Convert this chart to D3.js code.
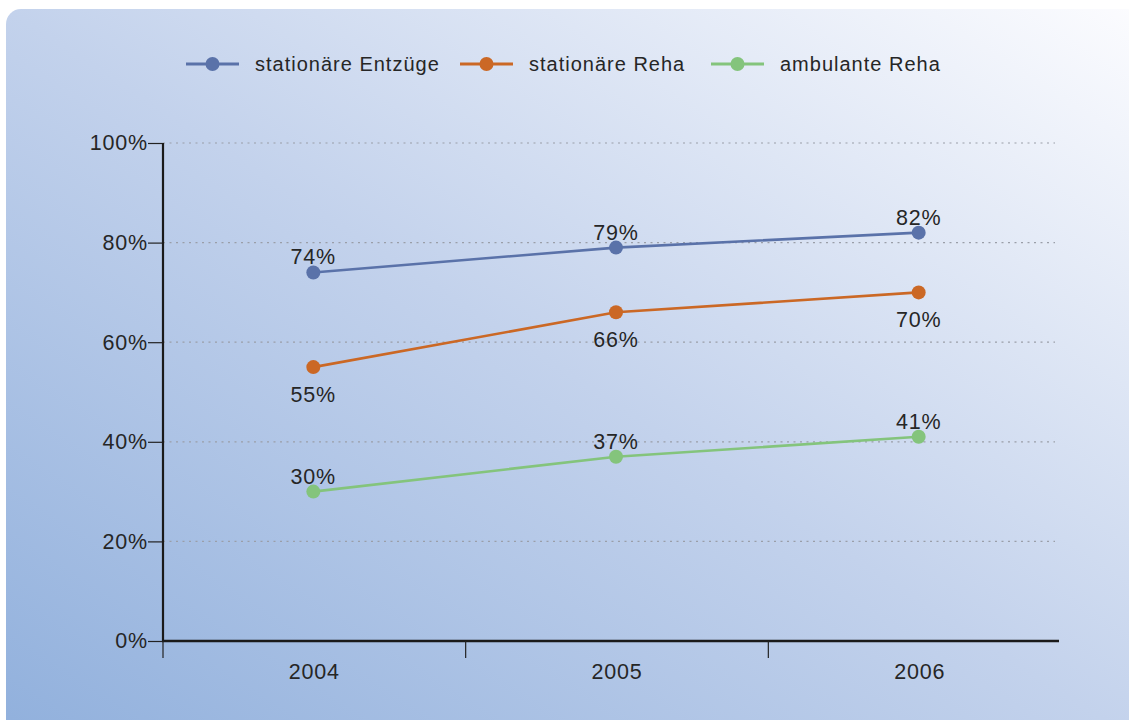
<!DOCTYPE html>
<html>
<head>
<meta charset="utf-8">
<script src="https://cdn.jsdelivr.net/npm/d3@7"></script>
<style>
html,body{margin:0;padding:0;background:#fff;}
svg{display:block;}
text{font-family:"Liberation Sans",Arial,sans-serif;fill:#262626;letter-spacing:0.8px;}
</style>
</head>
<body>
<svg id="chart" width="1129" height="720"></svg>
<script>
const years = ["2004", "2005", "2006"];
const seriesNames = ["stationäre Entzüge", "stationäre Reha", "ambulante Reha"];
const entzuege = [74, 79, 82];
const statReha = [55, 66, 70];
const ambReha = [30, 37, 41];
const yTicks = [0, 20, 40, 60, 80, 100];
const colors = ["#5a72a9", "#cb6825", "#84c47c"];
const labelSide = ["above", "below", "above"];

(function () {
const series = [entzuege, statReha, ambReha].map((vals, i) => ({
  name: seriesNames[i], values: vals, color: colors[i], side: labelSide[i]
}));

const svg = d3.select("#chart");
const W = 1129, H = 720;
const labelSize = 21.5;

// background card with gradient
const defs = svg.append("defs");
const grad = defs.append("linearGradient").attr("id", "bg")
  .attr("x1", "0%").attr("y1", "100%").attr("x2", "100%").attr("y2", "0%");
grad.append("stop").attr("offset", "0%").attr("stop-color", "#8fafdc");
grad.append("stop").attr("offset", "50%").attr("stop-color", "#c3d2ec");
grad.append("stop").attr("offset", "100%").attr("stop-color", "#fdfdff");
svg.append("rect").attr("x", 6).attr("y", 9).attr("width", W + 30).attr("height", H + 30)
  .attr("rx", 15).attr("fill", "url(#bg)");

const mLeft = 163, mRight = 1071, mTop = 143, mBottom = 641;
const x = d3.scaleBand().domain(years).range([mLeft, mRight]);
const y = d3.scaleLinear().domain([0, 100]).range([mBottom, mTop]);

// gridlines
svg.append("g").selectAll("line").data(yTicks.filter(d => d > 0)).join("line")
  .attr("x1", mLeft).attr("x2", 1055)
  .attr("y1", d => y(d)).attr("y2", d => y(d))
  .attr("stroke", "#9a9ea8").attr("stroke-width", 1.2).attr("stroke-dasharray", "2,4.5");

// y axis
const yAxis = svg.append("g").attr("transform", `translate(${mLeft},0)`)
  .call(d3.axisLeft(y).tickValues(yTicks).tickFormat(d => d + "%").tickSize(15).tickPadding(0));
yAxis.select(".domain").remove();
yAxis.selectAll(".tick line").attr("stroke", "#222").attr("stroke-width", 1.2);
yAxis.selectAll(".tick text").attr("font-size", labelSize).attr("fill", "#262626")
  .style("font-family", "Liberation Sans, Arial, sans-serif");
svg.append("line").attr("x1", mLeft).attr("x2", mLeft).attr("y1", y(100)).attr("y2", y(0))
  .attr("stroke", "#1a1a1a").attr("stroke-width", 2.2);

// x axis
svg.append("line").attr("x1", mLeft - 1).attr("x2", 1059).attr("y1", mBottom).attr("y2", mBottom)
  .attr("stroke", "#1a1a1a").attr("stroke-width", 2.6);
svg.append("g").selectAll("line").data(years).join("line")
  .attr("x1", d => x(d)).attr("x2", d => x(d))
  .attr("y1", mBottom).attr("y2", mBottom + 17)
  .attr("stroke", "#222").attr("stroke-width", 1.2);
svg.append("g").selectAll("text").data(years).join("text")
  .attr("x", d => x(d) + x.bandwidth() / 2).attr("y", mBottom + 38)
  .attr("text-anchor", "middle").attr("font-size", labelSize).text(d => d);

// lines
const cx = (d, i) => x(years[i]) + x.bandwidth() / 2 - 1;
const line = d3.line().x((d, i) => cx(d, i)).y(d => y(d));
const g = svg.append("g");
series.forEach(s => {
  g.append("path").datum(s.values).attr("d", line)
    .attr("fill", "none").attr("stroke", s.color).attr("stroke-width", 2.6);
  g.selectAll(null).data(s.values).join("circle")
    .attr("cx", cx).attr("cy", d => y(d)).attr("r", 7).attr("fill", s.color);
  g.selectAll(null).data(s.values).join("text")
    .attr("x", cx).attr("y", d => s.side === "above" ? y(d) - 8 : y(d) + 35)
    .attr("text-anchor", "middle").attr("font-size", labelSize).text(d => d + "%");
});

// legend
const legX = [186, 460, 711];
const leg = svg.append("g");
series.forEach((s, i) => {
  const lg = leg.append("g").attr("transform", `translate(${legX[i]},64)`);
  lg.append("line").attr("x1", 0).attr("x2", 53).attr("y1", 0).attr("y2", 0)
    .attr("stroke", s.color).attr("stroke-width", 3);
  lg.append("circle").attr("cx", 26.5).attr("cy", 0).attr("r", 7).attr("fill", s.color);
  lg.append("text").attr("x", 69).attr("y", 7).attr("font-size", 20)
    .style("letter-spacing", "1px").text(s.name);
});
})();
</script>
</body>
</html>
